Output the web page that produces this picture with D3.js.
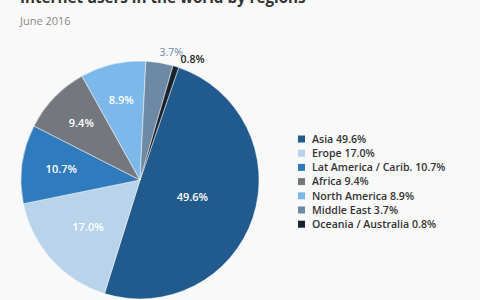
<!DOCTYPE html>
<html>
<head>
<meta charset="utf-8">
<script src="https://cdn.jsdelivr.net/npm/d3@7"></script>
<style>
  body { margin: 0; background: #f9f9f9; }
  svg { display: block; font-family: "Open Sans", sans-serif; }
</style>
</head>
<body>
<svg id="chart"></svg>
<script>
const regions = ["Asia", "Erope", "Lat America / Carib.", "Africa", "North America", "Middle East", "Oceania / Australia"];
const shares = [49.6, 17.0, 10.7, 9.4, 8.9, 3.7, 0.8];
const colors = ["#215b8d", "#b8d3ea", "#2f7bbe", "#74777d", "#7cb9ea", "#6d89a5", "#16222e"];

const width = 480, height = 300;
const cx = 140, cy = 180, radius = 119;

const svg = d3.select("#chart").attr("width", width).attr("height", height);

svg.append("rect").attr("width", width).attr("height", height).attr("fill", "#f9f9f9");

svg.append("text")
    .attr("x", 20).attr("y", 3)
    .attr("font-size", 15.2).attr("font-weight", "bold").attr("fill", "#333")
    .text("Internet users in the world by regions");

svg.append("text")
    .attr("x", 20).attr("y", 25)
    .attr("font-size", 11).attr("fill", "#8a8a8a")
    .text("June 2016");

const data = regions.map((r, i) => ({ region: r, value: shares[i], color: colors[i] }));

const start = 19 * Math.PI / 180;
const pie = d3.pie().sort(null).value(d => d.value)
    .startAngle(start).endAngle(start + 2 * Math.PI);
const arcs = pie(data);

const arc = d3.arc().innerRadius(0).outerRadius(radius);

const g = svg.append("g").attr("transform", `translate(${cx},${cy})`);

g.selectAll("path")
    .data(arcs)
    .join("path")
    .attr("d", arc)
    .attr("fill", d => d.data.color)
    .attr("stroke", "#f9f9f9")
    .attr("stroke-width", 0.5);

// label radius shrinks for bigger slices
const labelR = d3.scaleLinear().domain([9, 17, 50]).range([82, 70, 55]).clamp(true);
const mid = d => (d.startAngle + d.endAngle) / 2;

const inside = arcs.filter(d => d.data.value >= 5);
const outside = arcs.filter(d => d.data.value < 5);

g.selectAll(".in")
    .data(inside)
    .join("text")
    .attr("class", "in")
    .attr("x", d => Math.sin(mid(d)) * labelR(d.data.value))
    .attr("y", d => -Math.cos(mid(d)) * labelR(d.data.value))
    .attr("dy", "0.35em")
    .attr("text-anchor", "middle")
    .attr("font-size", 11).attr("font-weight", 600).attr("fill", "#fff")
    .text(d => d.data.value.toFixed(1) + "%");

g.selectAll(".out")
    .data(outside)
    .join("text")
    .attr("class", "out")
    .attr("x", d => Math.sin(mid(d)) * 128 + (d.data.value < 1 ? 2 : -1.5))
    .attr("y", d => -Math.cos(mid(d)) * 128 + (d.data.value < 1 ? 1.5 : -1))
    .attr("dy", "0.35em")
    .attr("text-anchor", d => mid(d) > 0.26 ? "start" : "middle")
    .attr("font-size", 10.5)
    .attr("font-weight", d => d.data.value < 1 ? 600 : 400)
    .attr("fill", d => d.data.value < 1 ? "#222" : "#6d89a5")
    .text(d => d.data.value.toFixed(1) + "%");

const legend = svg.append("g").attr("transform", "translate(298,139)");
const rowH = 14.2;

const rows = legend.selectAll("g")
    .data(data)
    .join("g")
    .attr("transform", (d, i) => `translate(0,${i * rowH})`);

rows.append("rect")
    .attr("x", 0).attr("y", -3.5)
    .attr("width", 7).attr("height", 7)
    .attr("fill", d => d.color);

rows.append("text")
    .attr("x", 14).attr("dy", "0.35em")
    .attr("font-size", 10.6).attr("font-weight", 600).attr("fill", "#333")
    .text(d => `${d.region} ${d.value.toFixed(1)}%`);
</script>
</body>
</html>
